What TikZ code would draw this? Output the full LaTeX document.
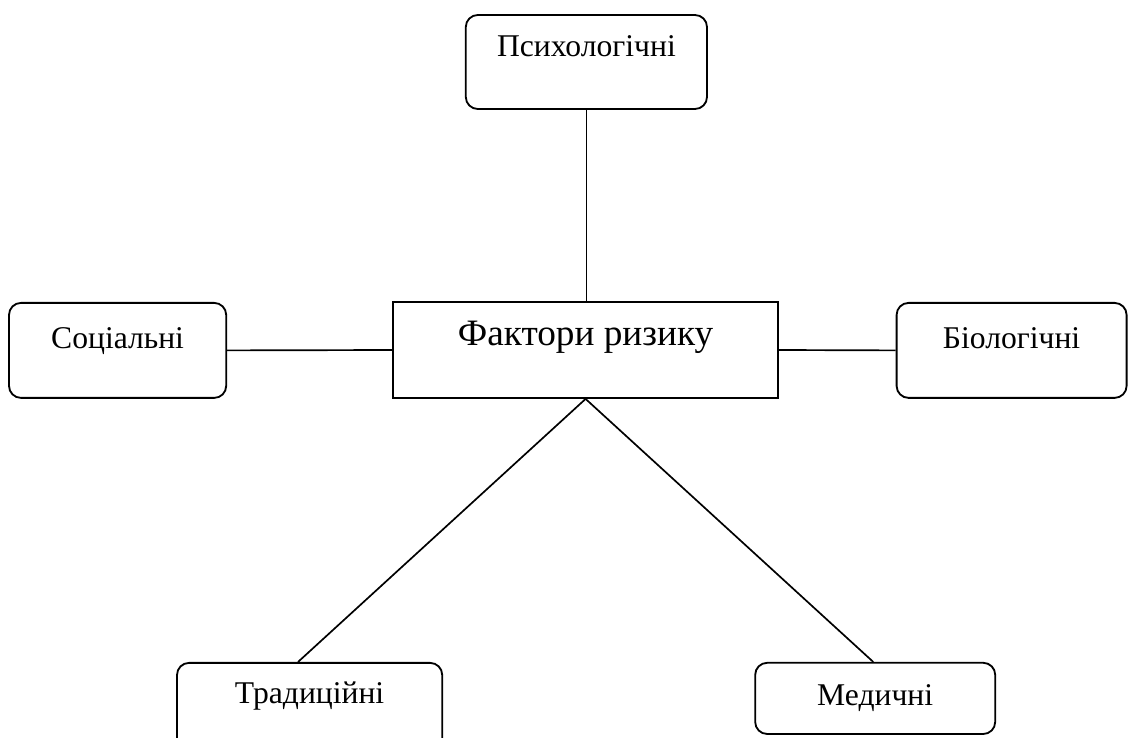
\documentclass[tikz,border=0pt]{standalone}
\usepackage{fontspec}
\setmainfont{Liberation Serif}
\begin{document}
\begin{tikzpicture}[
    factor/.style={draw, rounded corners=.3cm, line width=1.3pt, align=center,
        font=\fontsize{22.5}{26}\selectfont, text height=.5cm},
    mainbox/.style={draw, line width=1.3pt, align=center,
        font=\fontsize{26.5}{30}\selectfont, text height=.5cm},
    link/.style={line width=1.2pt}]
\useasboundingbox (0,0) rectangle (28.25,-18.45);
\node[mainbox, minimum width=9.63cm, minimum height=2.4cm, text depth=.75cm] (fak) at (14.64,-8.75) {Фактори ризику};
\node[factor, minimum width=6.03cm, minimum height=2.35cm, text depth=.75cm] (psy) at (14.66,-1.55) {Психологічні};
\node[factor, minimum width=5.43cm, minimum height=2.375cm, text depth=.6cm] (soc) at (2.94,-8.76) {Соціальні};
\node[factor, minimum width=5.75cm, minimum height=2.375cm, text depth=.6cm] (bio) at (25.29,-8.76) {Біологічні};
\node[factor, minimum width=6.63cm, minimum height=2.375cm, text depth=.825cm] (tra) at (7.74,-17.76) {Традиційні};
\node[factor, minimum width=6cm, minimum height=1.78cm, text depth=.15cm] (med) at (21.88,-17.46) {Медичні};
% connectors
\draw[link] (psy.south) -- (psy.south |- fak.north);
\draw[link] (soc.east) -- (fak.west);
\draw[link] (fak.east) -- (bio.west);
\draw[link] (fak.south) -- ([xshift=-.29cm]tra.north);
\draw[link] (fak.south) -- ([xshift=-.05cm]med.north);
\end{tikzpicture}
\end{document}
